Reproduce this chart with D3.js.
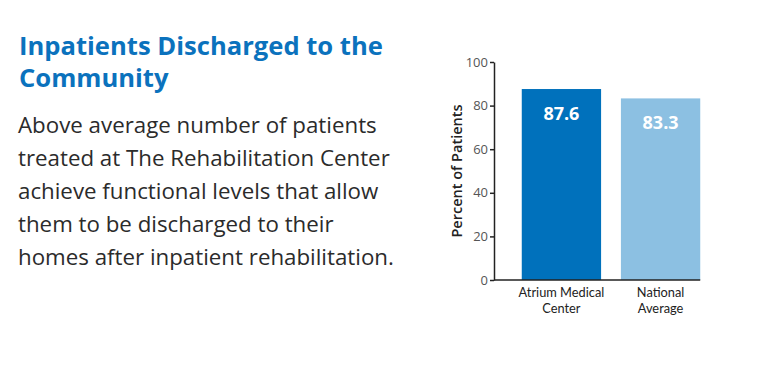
<!DOCTYPE html>
<html>
<head>
    <style>
        body { margin: 0; background: #fff; }
        .title { fill: #0b72bd; font: bold 25.6px "Open Sans", sans-serif; }
        .body { fill: #2b2b2b; font: 22.3px "Open Sans", sans-serif; }
        .axis text { font: 13px "Open Sans", sans-serif; fill: #555; }
        .axis path, .axis line { stroke: #222; stroke-width: 1.5; }
        .cat { font: 12.8px Lato, sans-serif; fill: #222; text-anchor: middle; }
        .val { font: bold 18px "Open Sans", sans-serif; fill: #fff; text-anchor: middle; }
        .ylabel { font: 600 14.5px "Open Sans", sans-serif; fill: #222; text-anchor: middle; }
    </style>
    <script src="https://d3js.org/d3.v7.min.js"></script>
</head>
<body>
    <svg width="760" height="378"></svg>
    <script>
        var categories = [["Atrium Medical", "Center"], ["National", "Average"]];
        var values = [87.6, 83.3];
        var barColors = ["#0071bc", "#8cc0e2"];
        var yTicks = [0, 20, 40, 60, 80, 100];
        var titleLines = ["Inpatients Discharged to the", "Community"];
        var bodyLines = [
            "Above average number of patients",
            "treated at The Rehabilitation Center",
            "achieve functional levels that allow",
            "them to be discharged to their",
            "homes after inpatient rehabilitation."
        ];

        var svg = d3.select("svg");

        svg.selectAll(".title").data(titleLines).enter().append("text")
           .attr("class", "title")
           .attr("x", 19)
           .attr("y", function(d, i) { return 55 + i * 32; })
           .text(function(d) { return d; });

        svg.selectAll(".body").data(bodyLines).enter().append("text")
           .attr("class", "body")
           .attr("x", 18)
           .attr("y", function(d, i) { return 133 + i * 33; })
           .text(function(d) { return d; });

        var x = d3.scaleBand()
                  .domain(d3.range(values.length))
                  .range([494, 728])
                  .paddingInner(0.2)
                  .paddingOuter(0.28);

        var y = d3.scaleLinear().domain([0, 100]).range([280, 62]);

        svg.selectAll(".bar").data(values).enter().append("rect")
           .attr("class", "bar")
           .attr("x", function(d, i) { return x(i); })
           .attr("width", x.bandwidth())
           .attr("y", function(d) { return y(d); })
           .attr("height", function(d) { return y(0) - y(d); })
           .attr("fill", function(d, i) { return barColors[i]; });

        svg.selectAll(".val").data(values).enter().append("text")
           .attr("class", "val")
           .attr("x", function(d, i) { return x(i) + x.bandwidth() / 2; })
           .attr("y", function(d) { return y(d) + 31; })
           .text(function(d) { return d.toFixed(1); });

        svg.append("g")
           .attr("class", "axis")
           .attr("transform", "translate(494,0)")
           .call(d3.axisLeft(y).tickValues(yTicks).tickSize(4).tickSizeOuter(0).tickPadding(2));

        svg.append("line")
           .attr("x1", 494).attr("x2", x(values.length - 1) + x.bandwidth())
           .attr("y1", y(0)).attr("y2", y(0))
           .attr("stroke", "#222").attr("stroke-width", 1.5);

        // two-line category labels, one text per line
        var cat = svg.selectAll(".catg").data(categories).enter().append("g")
           .attr("class", "catg")
           .attr("transform", function(d, i) {
               return "translate(" + (x(i) + x.bandwidth() / 2) + ",0)";
           });
        cat.selectAll("text").data(function(d) { return d; }).enter().append("text")
           .attr("class", "cat")
           .attr("y", function(d, i) { return 297 + i * 15.5; })
           .text(function(d) { return d; });

        svg.append("text")
           .attr("class", "ylabel")
           .attr("transform", "translate(462," + y(50) + ") rotate(-90)")
           .text("Percent of Patients");
    </script>
</body>
</html>
